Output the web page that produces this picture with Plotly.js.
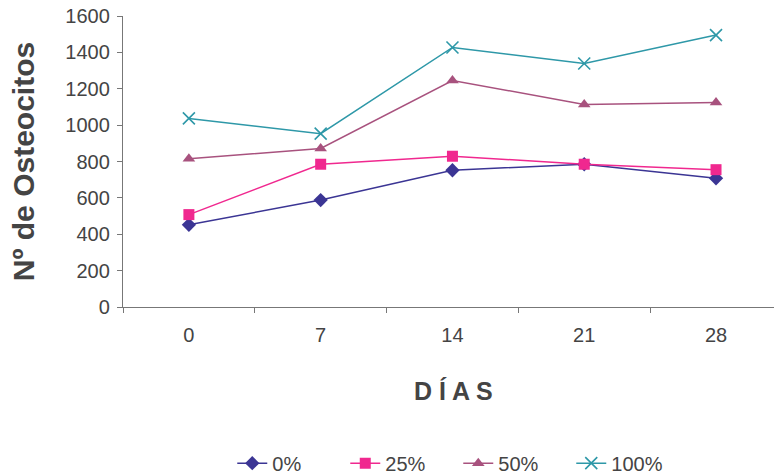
<!DOCTYPE html>
<html><head><meta charset="utf-8">
<script src="https://cdn.plot.ly/plotly-3.0.1.min.js"></script>
<style>body{margin:0;background:#fff}#c{width:774px;height:475px}</style>
</head><body><div id="c"></div>
<script>
const days = ["0", "7", "14", "21", "28"];
const s0 = [452, 588, 752, 785, 708];
const s25 = [508, 785, 829, 785, 755];
const s50 = [815, 872, 1245, 1114, 1124];
const s100 = [1037, 953, 1427, 1339, 1495];
const names = ["0%", "25%", "50%", "100%"];
const colors = ["#3b3594", "#f0288f", "#a8527e", "#2e98a8"];
const symbols = ["diamond", "square", "triangle-up", "x-thin"];
const series = [s0, s25, s50, s100];
const FONT = "Liberation Sans, Arial, sans-serif";
const traces = series.map((s, i) => ({
  x: days, y: s, name: names[i], type: "scatter", mode: "lines+markers",
  line: {color: colors[i], width: 1.5},
  marker: {symbol: symbols[i], size: i === 3 ? 12 : 11, color: colors[i],
           line: {color: colors[i], width: i === 3 ? 1.6 : 0}}
}));
const layout = {
  width: 774, height: 475,
  margin: {l: 123, r: 0, t: 16, b: 168, autoexpand: false},
  paper_bgcolor: "#fff", plot_bgcolor: "#fff",
  font: {family: FONT, color: "#444", size: 20},
  showlegend: true,
  legend: {orientation: "h", xref: "paper", x: 0.515, xanchor: "center",
           yref: "container", y: 0.025, yanchor: "middle",
           font: {size: 20, color: "#444", family: FONT}, entrywidth: 68, tracegroupgap: 0},
  xaxis: {type: "category", range: [-0.5, 4.44], showline: true, linecolor: "#777", linewidth: 1.2,
          ticks: "outside", tickson: "boundaries", ticklen: 5, tickcolor: "#777",
          showgrid: false, zeroline: false, tickfont: {size: 20}, ticklabelstandoff: 10},
  yaxis: {range: [0, 1600], dtick: 200, showline: true, linecolor: "#777", linewidth: 1.2,
          ticks: "outside", ticklen: 5, tickcolor: "#777", showgrid: false, zeroline: false,
          tickfont: {size: 20}, ticklabelstandoff: 3,
          title: {text: "Nº de Osteocitos", font: {size: 30, color: "#444", family: FONT, weight: "bold"}, standoff: 21}},
  annotations: [{text: "<b>D Í A S</b>", xref: "paper", yref: "paper", x: 0.508, y: -0.29,
                 xanchor: "center", yanchor: "middle", showarrow: false,
                 font: {size: 25, color: "#444"}}]
};
Plotly.newPlot("c", traces, layout, {displayModeBar: false, staticPlot: true});
</script></body></html>
